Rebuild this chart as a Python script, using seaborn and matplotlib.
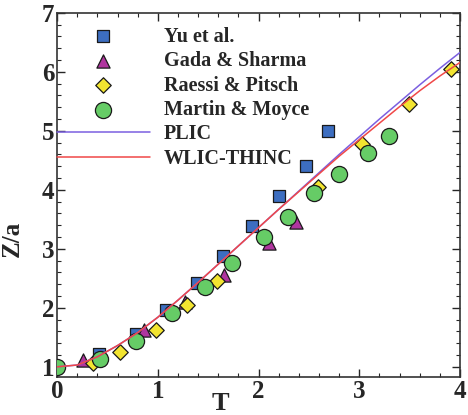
import numpy as np
import pandas as pd
import seaborn as sns
import matplotlib
matplotlib.use("Agg")
import matplotlib.pyplot as plt
from matplotlib.ticker import MultipleLocator

# ---- data ----
yu_T = [0.42, 0.78, 1.08, 1.39, 1.65, 1.93, 2.20, 2.47, 2.69]
yu_Z = [1.22, 1.56, 1.97, 2.42, 2.88, 3.38, 3.89, 4.40, 5.00]

gada_T = [0.26, 0.86, 1.27, 1.66, 2.10, 2.37]
gada_Z = [1.12, 1.63, 2.10, 2.55, 3.10, 3.45]

raessi_T = [0.36, 0.62, 0.98, 1.29, 1.59, 2.59, 3.03, 3.49, 3.91]
raessi_Z = [1.07, 1.25, 1.63, 2.04, 2.46, 4.04, 4.78, 5.45, 6.05]

martin_T = [0.00, 0.43, 0.78, 1.14, 1.47, 1.74, 2.05, 2.29, 2.55, 2.80, 3.09, 3.29]
martin_Z = [1.00, 1.13, 1.44, 1.91, 2.36, 2.76, 3.20, 3.54, 3.95, 4.27, 4.63, 4.92]

line_T = [0.0, 0.2, 0.4, 0.6, 0.8, 1.0, 1.2, 1.4, 1.6, 1.8, 2.0, 2.2, 2.4, 2.6, 2.8, 3.0, 3.2, 3.4, 3.6, 3.8, 4.0]
plic_Z = [1.00, 1.03, 1.17, 1.36, 1.58, 1.84, 2.13, 2.43, 2.74, 3.05, 3.36, 3.67, 3.98, 4.29, 4.60, 4.90, 5.20, 5.49, 5.78, 6.06, 6.33]
wlic_Z = [1.00, 1.03, 1.17, 1.36, 1.58, 1.84, 2.13, 2.43, 2.74, 3.05, 3.36, 3.67, 3.97, 4.27, 4.57, 4.85, 5.13, 5.41, 5.68, 5.93, 6.16]

labels = ["Yu et al.", "Gada & Sharma", "Raessi & Pitsch", "Martin & Moyce", "PLIC", "WLIC-THINC"]

sns.set_style("white")
plt.rcParams['font.family'] = ['Liberation Serif', 'DejaVu Serif']
plt.rcParams['font.weight'] = 'bold'

fig = plt.figure(figsize=(4.68, 4.15), dpi=100)
ax = fig.add_axes([0.122, 0.092, 0.861, 0.877])

sns.lineplot(x=line_T, y=plic_Z, ax=ax, color="#7B5FE0", lw=1.1, label=labels[4], zorder=5)
sns.lineplot(x=line_T, y=wlic_Z, ax=ax, color="#F04848", lw=1.1, label=labels[5], zorder=5)

kw = dict(ax=ax, edgecolor="#1a1a1a", linewidth=0.9, zorder=3)
sns.scatterplot(x=yu_T, y=yu_Z, marker="s", s=75, color="#3D6EC0", label=labels[0], **kw)
sns.scatterplot(x=gada_T, y=gada_Z, marker="^", s=90, color="#B0359F", label=labels[1], **kw)
sns.scatterplot(x=raessi_T, y=raessi_Z, marker="D", s=62, color="#F2E430", label=labels[2], **kw)
sns.scatterplot(x=martin_T, y=martin_Z, marker="o", s=135, color="#66CC66", label=labels[3], **kw)

ax.set_xlim(0, 4)
ax.set_ylim(0.83, 7)
ax.xaxis.set_major_locator(MultipleLocator(1))
ax.xaxis.set_minor_locator(MultipleLocator(0.2))
ax.yaxis.set_major_locator(MultipleLocator(1))
ax.yaxis.set_minor_locator(MultipleLocator(0.2))
ax.tick_params(which="both", direction="in", top=True, right=True, bottom=True, left=True)
ax.tick_params(which="major", length=6, width=1.0, labelsize=18, pad=2)
ax.tick_params(which="minor", length=3, width=0.8)
for sp in ax.spines.values():
    sp.set_color("#333333")
    sp.set_linewidth(1.2)

ax.set_xlabel("T", fontsize=19, fontweight="bold")
ax.set_ylabel("Z/a", fontsize=18, fontweight="bold")
ax.xaxis.set_label_coords(0.405, -0.042)
ax.yaxis.set_label_coords(-0.083, 0.38)

h, l = ax.get_legend_handles_labels()
hd = dict(zip(l, h))
ax.legend([hd[x] for x in labels], labels, loc="upper left", frameon=False,
          prop={'family': 'Liberation Serif', 'weight': 'bold', 'size': 14.5},
          handlelength=4.6, handletextpad=0.7, labelspacing=0.22,
          borderaxespad=0.0, bbox_to_anchor=(-0.02, 0.984))

fig.savefig("out.png", dpi=100)
